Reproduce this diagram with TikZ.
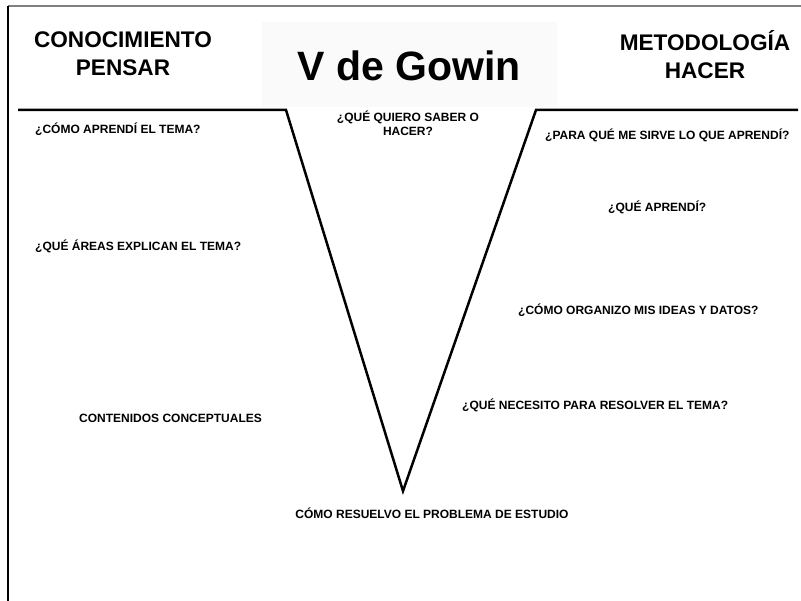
\documentclass[tikz,border=0pt]{standalone}
\usepackage{fontspec}
\setmainfont{Liberation Sans}
\usetikzlibrary{positioning}

\tikzset{
  encabezado/.style={font=\fontsize{22.6}{28}\selectfont\bfseries, align=center, inner sep=0pt},
  pregunta/.style={font=\fontsize{12}{14}\selectfont\bfseries, inner sep=0pt},
}

\begin{document}
\begin{tikzpicture}[x=1pt, y=-1pt]
            \useasboundingbox (0,0) rectangle (801,601);
            
            % Borde de la hoja
            \draw[gray, line width=2pt] (8,6) -- (801,6);
            \draw[black, line width=1.3pt] (8,6) -- (8,601);
            
            % Recuadro del titulo
            \fill[black!2] (262,22) rectangle (557,107);
            \node[font=\fontsize{41}{44}\selectfont\bfseries, inner sep=0pt] (titulo) at (409,66) {V de Gowin};
            
            % Encabezados
            \node[encabezado] (conocimiento) at (123,54) {CONOCIMIENTO\\PENSAR};
            \node[encabezado] (metodologia) at (705,55) {METODOLOGÍA\\HACER};
            
            % La V
            \coordinate (izq) at (18,110);
            \coordinate (izqarriba) at (286,110);
            \coordinate (vertice) at (403,491);
            \coordinate (derarriba) at (536,110);
            \coordinate (der) at (798,110);
            \draw[line width=2.5pt, line join=miter] (izq) -- (izqarriba) -- (vertice) -- (derarriba) -- (der);
            
            % Pregunta central
            \node[pregunta, align=center] (saber) at (408,123) {¿QUÉ QUIERO SABER O\\HACER?};
            \node[pregunta] (resuelvo) at (432,513) {CÓMO RESUELVO EL PROBLEMA DE ESTUDIO};
            
            % Lado conceptual
            \node[pregunta, anchor=west] (aprendi) at (35,129) {¿CÓMO APRENDÍ EL TEMA?};
            \node[pregunta, anchor=west] (areas) at (35,246) {¿QUÉ ÁREAS EXPLICAN EL TEMA?};
            \node[pregunta, anchor=west] (contenidos) at (79,418) {CONTENIDOS CONCEPTUALES};
            
            % Lado metodologico
            \node[pregunta, anchor=west] (sirve) at (545,135) {¿PARA QUÉ ME SIRVE LO QUE APRENDÍ?};
            \node[pregunta, anchor=west] (queaprendi) at (608,207) {¿QUÉ APRENDÍ?};
            \node[pregunta, anchor=west] (organizo) at (518,310) {¿CÓMO ORGANIZO MIS IDEAS Y DATOS?};
            \node[pregunta, anchor=west] (necesito) at (462,405) {¿QUÉ NECESITO PARA RESOLVER EL TEMA?};
              
\end{tikzpicture}
\end{document}
